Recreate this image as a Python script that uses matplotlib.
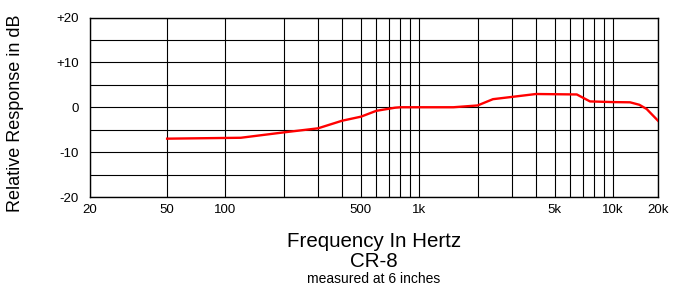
import numpy as np
import matplotlib
matplotlib.use('Agg')
import matplotlib.pyplot as plt

# response curve (Hz, dB)
freq = [50, 120, 200, 300, 400, 500, 600, 750, 800, 1500, 2000, 2400, 3000, 4000,
        6500, 7600, 10000, 13000, 15000, 16800, 20000]
response = [-7.0, -6.8, -5.6, -4.7, -3.0, -2.1, -0.8, -0.1, 0.0, 0.0, 0.4, 1.8, 2.3, 2.95,
            2.85, 1.3, 1.15, 1.1, 0.55, -0.4, -3.0]

x_ticks = [20, 50, 100, 500, 1000, 5000, 10000, 20000]
x_labels = ['20', '50', '100', '500', '1k', '5k', '10k', '20k']
x_grid = [200, 300, 400, 600, 700, 800, 900,
          2000, 3000, 4000, 6000, 7000, 8000, 9000]
y_ticks = [-20, -10, 0, 10, 20]
y_labels = ['-20', '-10', '0', '+10', '+20']
y_grid = [-15, -5, 5, 15]


# log axis, with the last octave squeezed like on the printed sheet
def fwd(x):
    lx = np.log10(np.clip(np.asarray(x, dtype=float), 1e-3, None))
    return np.where(lx > 4, 4 + (lx - 4) * 0.77, lx)


def inv(y):
    y = np.asarray(y, dtype=float)
    return np.where(y > 4, 10 ** (4 + (y - 4) / 0.77), 10 ** y)


plt.rcParams['font.family'] = ['Liberation Sans', 'DejaVu Sans']

fig = plt.figure(figsize=(6.78, 2.87), dpi=100)
ax = fig.add_axes([90 / 678, 1 - 197 / 287, 568 / 678, 179.5 / 287])
ax.set_xscale('function', functions=(fwd, inv))
ax.set_xlim(20, 20000)
ax.set_ylim(-20, 20)

ax.set_xticks(x_ticks)
ax.set_xticklabels(x_labels)
ax.set_xticks(x_grid, minor=True)
ax.set_yticks(y_ticks)
ax.set_yticklabels(y_labels)
ax.set_yticks(y_grid, minor=True)
ax.tick_params(which='both', length=0, labelsize=9.5)
ax.tick_params(axis='x', pad=5)
ax.tick_params(axis='y', pad=8)

ax.grid(which='both', color='black', linewidth=0.8)
for s in ax.spines.values():
    s.set_linewidth(1.0)

ax.plot(freq, response, color='#ff0000', linewidth=1.7, zorder=3)

ax.set_ylabel('Relative Response in dB', fontsize=13)
ax.yaxis.set_label_coords(-66 / 568, (197 - 113.5) / 179.5)

cx = (90 + 658) / 2 / 678
fig.text(cx, 1 - 247 / 287, 'Frequency In Hertz', fontsize=14.8, ha='center', va='baseline')
fig.text(cx, 1 - 267 / 287, 'CR-8', fontsize=14.8, ha='center', va='baseline')
fig.text(cx, 1 - 283 / 287, 'measured at 6 inches', fontsize=10, ha='center', va='baseline')

fig.savefig('out.png', dpi=100)
